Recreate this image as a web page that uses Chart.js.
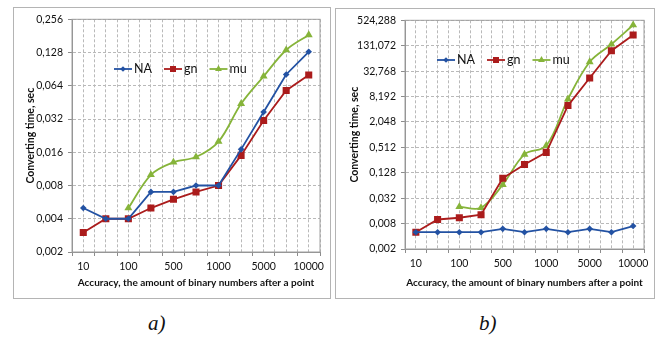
<!DOCTYPE html>
<html>
<head>
<meta charset="utf-8">
<script src="https://cdn.jsdelivr.net/npm/chart.js@4.4.0/dist/chart.umd.min.js"></script>
<style>
    body { margin: 0; background: #fff; width: 659px; height: 343px; position: relative; overflow: hidden; }
    .box { position: absolute; border: 1px solid #b4b4b4; box-sizing: border-box; }
    .box canvas { position: absolute; left: 0; top: 0; }
    .cap { position: absolute; top: 311px; font-family: 'Liberation Serif', serif; font-style: italic; font-size: 21px; color: #111; }
</style>
</head>
<body>
<div class="box" style="left:13px;top:7px;width:318px;height:292px"><canvas id="chartA" width="316" height="290"></canvas></div>
<div class="box" style="left:335px;top:8px;width:320px;height:291px"><canvas id="chartB" width="318" height="289"></canvas></div>
<div class="cap" style="left:148px">a)</div>
<div class="cap" style="left:479px">b)</div>
<script>
const categories = ['10', '50', '100', '250', '500', '750', '1000', '2500', '5000', '7500', '10000']
const seriesNames = ['NA', 'gn', 'mu']

// chart a)
const naA = [0.005, 0.004, 0.004, 0.007, 0.007, 0.008, 0.008, 0.017, 0.037, 0.081, 0.13]
const gnA = [0.003, 0.004, 0.004, 0.005, 0.006, 0.007, 0.008, 0.015, 0.031, 0.058, 0.08]
const muA = [null, null, 0.005, 0.01, 0.013, 0.0145, 0.02, 0.044, 0.078, 0.135, 0.185]
const yTicksA = [0.002, 0.004, 0.008, 0.016, 0.032, 0.064, 0.128, 0.256]

// chart b)
const naB = [0.005, 0.005, 0.005, 0.005, 0.006, 0.005, 0.006, 0.005, 0.006, 0.005, 0.007]
const gnB = [0.005, 0.01, 0.011, 0.013, 0.095, 0.2, 0.39, 5, 22.6, 100, 236]
const muB = [null, null, 0.02, 0.019, 0.067, 0.35, 0.56, 7.1, 54, 142, 406]
const yTicksB = [0.002, 0.008, 0.032, 0.128, 0.512, 2.048, 8.192, 32.768, 131.072, 524.288]

const xTitle = 'Accuracy, the amount of binary numbers after a point'
const yTitle = 'Converting time, sec'

const colors = ['#2352a3', '#ab1c1c', '#86b43a']
const styles = ['rectRot', 'rect', 'triangle']
const radii = [3.3, 5, 4.6]
const fontName = 'Lato, "Open Sans", sans-serif'
const gridColor = '#b9b9b9'

function marker(ctx, style, x, y, r, color) {
    ctx.fillStyle = color
    ctx.beginPath()
    if (style === 'rect') {
        const s = r * Math.SQRT1_2
        ctx.rect(x - s, y - s, 2 * s, 2 * s)
    } else if (style === 'rectRot') {
        ctx.moveTo(x, y - r); ctx.lineTo(x + r, y); ctx.lineTo(x, y + r); ctx.lineTo(x - r, y)
    } else {
        ctx.moveTo(x, y - r); ctx.lineTo(x + r * 0.87, y + r * 0.5); ctx.lineTo(x - r * 0.87, y + r * 0.5)
    }
    ctx.closePath()
    ctx.fill()
}

// plot frame + legend drawn inside the plot, Excel style
const excelBits = {
    id: 'excelBits',
    beforeDatasetsDraw(chart) {
        const {ctx, chartArea: a} = chart
        ctx.save()
        ctx.strokeStyle = '#a0a0a0'
        ctx.lineWidth = 1
        ctx.strokeRect(a.left, a.top, a.right - a.left, a.bottom - a.top)
        ctx.restore()
    },
    afterDraw(chart, args, opts) {
        const ctx = chart.ctx
        let x = opts.x
        const y = opts.y
        ctx.save()
        ctx.font = '12.5px ' + fontName
        ctx.textBaseline = 'middle'
        seriesNames.forEach((name, i) => {
            ctx.strokeStyle = colors[i]
            ctx.lineWidth = 1.8
            ctx.beginPath()
            ctx.moveTo(x, y)
            ctx.lineTo(x + 18, y)
            ctx.stroke()
            marker(ctx, styles[i], x + 9, y, radii[i] * 0.85, colors[i])
            ctx.fillStyle = '#111'
            ctx.fillText(name, x + 20, y)
            x += 20 + ctx.measureText(name).width + 12
        })
        ctx.restore()
    }
}

function points(values) {
    return values.map((v, i) => ({x: i, y: v}))
}

function buildChart(id, series, yTicks, yWidth, xHeight, titlePad, legendAt) {
    const datasets = series.map((values, i) => ({
        label: seriesNames[i],
        data: points(values),
        borderColor: colors[i],
        backgroundColor: colors[i],
        borderWidth: 1.8,
        pointStyle: styles[i],
        pointRadius: radii[i],
        pointBorderWidth: 0,
        tension: i === 2 ? 0.35 : 0,
    }))

    return new Chart(document.getElementById(id), {
        type: 'line',
        data: {datasets},
        plugins: [excelBits],
        options: {
            responsive: false,
            animation: false,
            layout: {padding: {top: 11, right: 10, left: 0, bottom: 0}},
            plugins: {
                legend: {display: false},
                tooltip: {enabled: false},
                excelBits: legendAt,
            },
            scales: {
                x: {
                    type: 'linear',
                    min: -0.5,
                    max: categories.length - 0.5,
                    afterBuildTicks: s => {
                        s.ticks = []
                        for (let i = 0; i <= categories.length * 2; i++) s.ticks.push({value: -0.5 + i * 0.5})
                    },
                    afterFit: s => { s.height = xHeight },
                    ticks: {
                        autoSkip: false,
                        maxRotation: 0,
                        padding: 4,
                        color: '#111',
                        font: {family: fontName, size: 10.5},
                        callback: v => (Number.isInteger(v) && v % 2 === 0) ? categories[v] : '',
                    },
                    grid: {
                        color: gridColor,
                        tickLength: 4,
                        tickColor: c => Number.isInteger(c.tick && c.tick.value) ? 'rgba(0,0,0,0)' : '#8c8c8c',
                    },
                    border: {color: '#8c8c8c', dash: [3, 2]},
                    title: {
                        display: true,
                        text: xTitle,
                        color: '#111',
                        font: {family: fontName, size: 10, weight: 'bold'},
                        padding: {top: 4, bottom: 9},
                    },
                },
                y: {
                    type: 'logarithmic',
                    min: yTicks[0],
                    max: yTicks[yTicks.length - 1],
                    afterBuildTicks: s => { s.ticks = yTicks.map(v => ({value: v})) },
                    afterFit: s => { s.width = yWidth },
                    ticks: {
                        autoSkip: false,
                        padding: 5,
                        color: '#111',
                        font: {family: fontName, size: 10.5},
                        callback: v => v.toFixed(3).replace('.', ','),
                    },
                    grid: {color: gridColor, tickLength: 4, tickColor: '#8c8c8c'},
                    border: {color: '#8c8c8c', dash: [3, 2]},
                    title: {
                        display: true,
                        text: yTitle,
                        color: '#111',
                        font: {family: fontName, size: 10.5, weight: 'bold'},
                        padding: {top: titlePad, bottom: 0},
                    },
                },
            },
        },
    })
}

buildChart('chartA', [naA, gnA, muA], yTicksA, 58, 46, 10, {x: 100, y: 61})
buildChart('chartB', [naB, gnB, muB], yTicksB, 69, 49, 12, {x: 101, y: 51})
</script>
</body>
</html>
